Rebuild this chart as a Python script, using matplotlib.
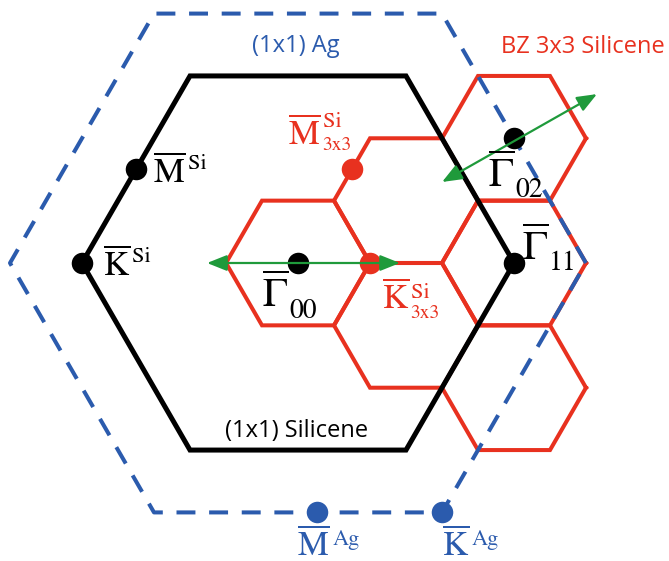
import numpy as np
import matplotlib.pyplot as plt
from matplotlib.patches import FancyArrowPatch

plt.rcParams['mathtext.fontset'] = 'stix'

# lengths in units of the (1x1) silicene BZ radius (centre to K)
si_radius = 1.0
ag_radius = 4.0 / 3.0          # 4x4 Ag(111) commensurate with 3x3 silicene
sc_radius = si_radius / 3.0    # 3x3 silicene BZ

# 3x3 zones drawn, as (n1, n2) multiples of the 3x3 reciprocal vectors
zone_n1 = [0, 1, 0, 1, 0, 2]
zone_n2 = [0, 0, 1, 1, 2, 0]

# high-symmetry points
point_base = [r'\Gamma', r'\Gamma', r'\Gamma', 'K', 'M', 'K', 'M', 'M', 'K']
point_sup = ['', '', '', 'Si', 'Si', 'Si', 'Si', 'Ag', 'Ag']
point_sub = ['00', '11', '02', '', '', '3x3', '3x3', '', '']
point_x = [0.0, 1.0, 1.0, -1.0, -0.75, 0.333, 0.25, 0.09, 0.667]
point_y = [0.0, 0.0, 0.577, 0.0, 0.433, 0.0, 0.433, -1.155, -1.155]
point_kind = ['si', 'si', 'si', 'si', 'si', 'sc', 'sc', 'ag', 'ag']

# scattering vectors
arrow_start = [(-0.421, 0.0), (0.667, 0.375)]
arrow_end = [(0.472, 0.0), (1.384, 0.782)]

zone_names = ['(1x1) Ag', 'BZ 3x3 Silicene', '(1x1) Silicene']
zone_name_x = [-0.213, 0.940, -0.338]
zone_name_y = [0.977, 0.972, -0.806]
zone_name_kind = ['ag', 'sc', 'si']

colors = {'si': 'black', 'sc': '#e8311f', 'ag': '#2b5bad'}
green = '#1f9a3b'

# label placement in pixels: offset of the letter from its point,
# then rise of the superscript / drop of the subscript from that baseline
label_offset = [(-36, -44), (8, 3), (-26, -48), (21, -12), (17, -13),
                (12, -45), (-64, 25), (-20, -43), (0, -43)]
label_size = [30, 30, 30, 25, 25, 25, 25, 25, 25]
sup_rise = [0, 0, 0, 13, 13, 10, 17, 10, 10]
sub_drop = [11, 10, 11, 0, 0, 10, 6, 0, 0]


def hexagon(cx, cy, r):
    ang = np.deg2rad(np.arange(0, 361, 60))
    return cx + r * np.cos(ang), cy + r * np.sin(ang)


fig = plt.figure(figsize=(6.69, 5.61), dpi=100)
ax = fig.add_axes([0, 0, 1, 1])
scale = 216.0
ax.set_xlim(-298 / scale, 371 / scale)
ax.set_ylim(-298 / scale, 263 / scale)
ax.set_aspect('equal')
ax.axis('off')

# 3x3 zones
b_len = np.sqrt(3) * sc_radius
b1 = b_len * np.array([np.cos(np.deg2rad(-30)), np.sin(np.deg2rad(-30))])
b2 = b_len * np.array([np.cos(np.deg2rad(30)), np.sin(np.deg2rad(30))])
for n1, n2 in zip(zone_n1, zone_n2):
    c = n1 * b1 + n2 * b2
    hx, hy = hexagon(c[0], c[1], sc_radius)
    ax.plot(hx, hy, color=colors['sc'], lw=2.9, solid_joinstyle='miter', zorder=1)

# (1x1) silicene zone
hx, hy = hexagon(0, 0, si_radius)
ax.plot(hx, hy, color=colors['si'], lw=3.6, solid_joinstyle='miter', zorder=2)

# (1x1) Ag zone
hx, hy = hexagon(0, 0, ag_radius)
ax.plot(hx, hy, color=colors['ag'], lw=2.9, ls=(0, (4.7, 3.4)),
        dash_capstyle='butt', zorder=3)

for x, y, k in zip(point_x, point_y, point_kind):
    ax.plot(x, y, 'o', ms=15.5, color=colors[k], mec='none', zorder=4)

for p0, p1 in zip(arrow_start, arrow_end):
    ax.add_patch(FancyArrowPatch(p0, p1, arrowstyle='<|-|>,head_length=0.5,head_width=0.2',
                                 mutation_scale=24, lw=1.6, color=green,
                                 shrinkA=0, shrinkB=0, zorder=5))

for i in range(len(point_x)):
    c = colors[point_kind[i]]
    dx, dy = label_offset[i]
    is_gamma = point_base[i] == r'\Gamma'
    main = ax.annotate(r'$\overline{\mathrm{%s}}$' % point_base[i], (point_x[i], point_y[i]),
                       xytext=(dx, dy), textcoords='offset pixels',
                       ha='left', va='baseline', fontsize=label_size[i], color=c, zorder=6)
    # x from the right edge of the letter, y from the point itself
    if point_sup[i]:
        ax.annotate(point_sup[i], (1, point_y[i]), xycoords=(main, 'data'),
                    xytext=(2, dy + sup_rise[i]), textcoords='offset pixels',
                    ha='left', va='baseline', fontsize=16, color=c,
                    family='STIXGeneral', zorder=6)
    if point_sub[i]:
        ax.annotate(point_sub[i], (1, point_y[i]), xycoords=(main, 'data'),
                    xytext=(1, dy - sub_drop[i]), textcoords='offset pixels',
                    ha='left', va='baseline', fontsize=20 if is_gamma else 14,
                    color=c, family='STIXGeneral', zorder=6)

for name, x, y, k in zip(zone_names, zone_name_x, zone_name_y, zone_name_kind):
    ax.text(x, y, name, ha='left', va='baseline', fontsize=17, family='Open Sans',
            color=colors[k], zorder=6)

fig.savefig('out.png', dpi=100, facecolor='white')
